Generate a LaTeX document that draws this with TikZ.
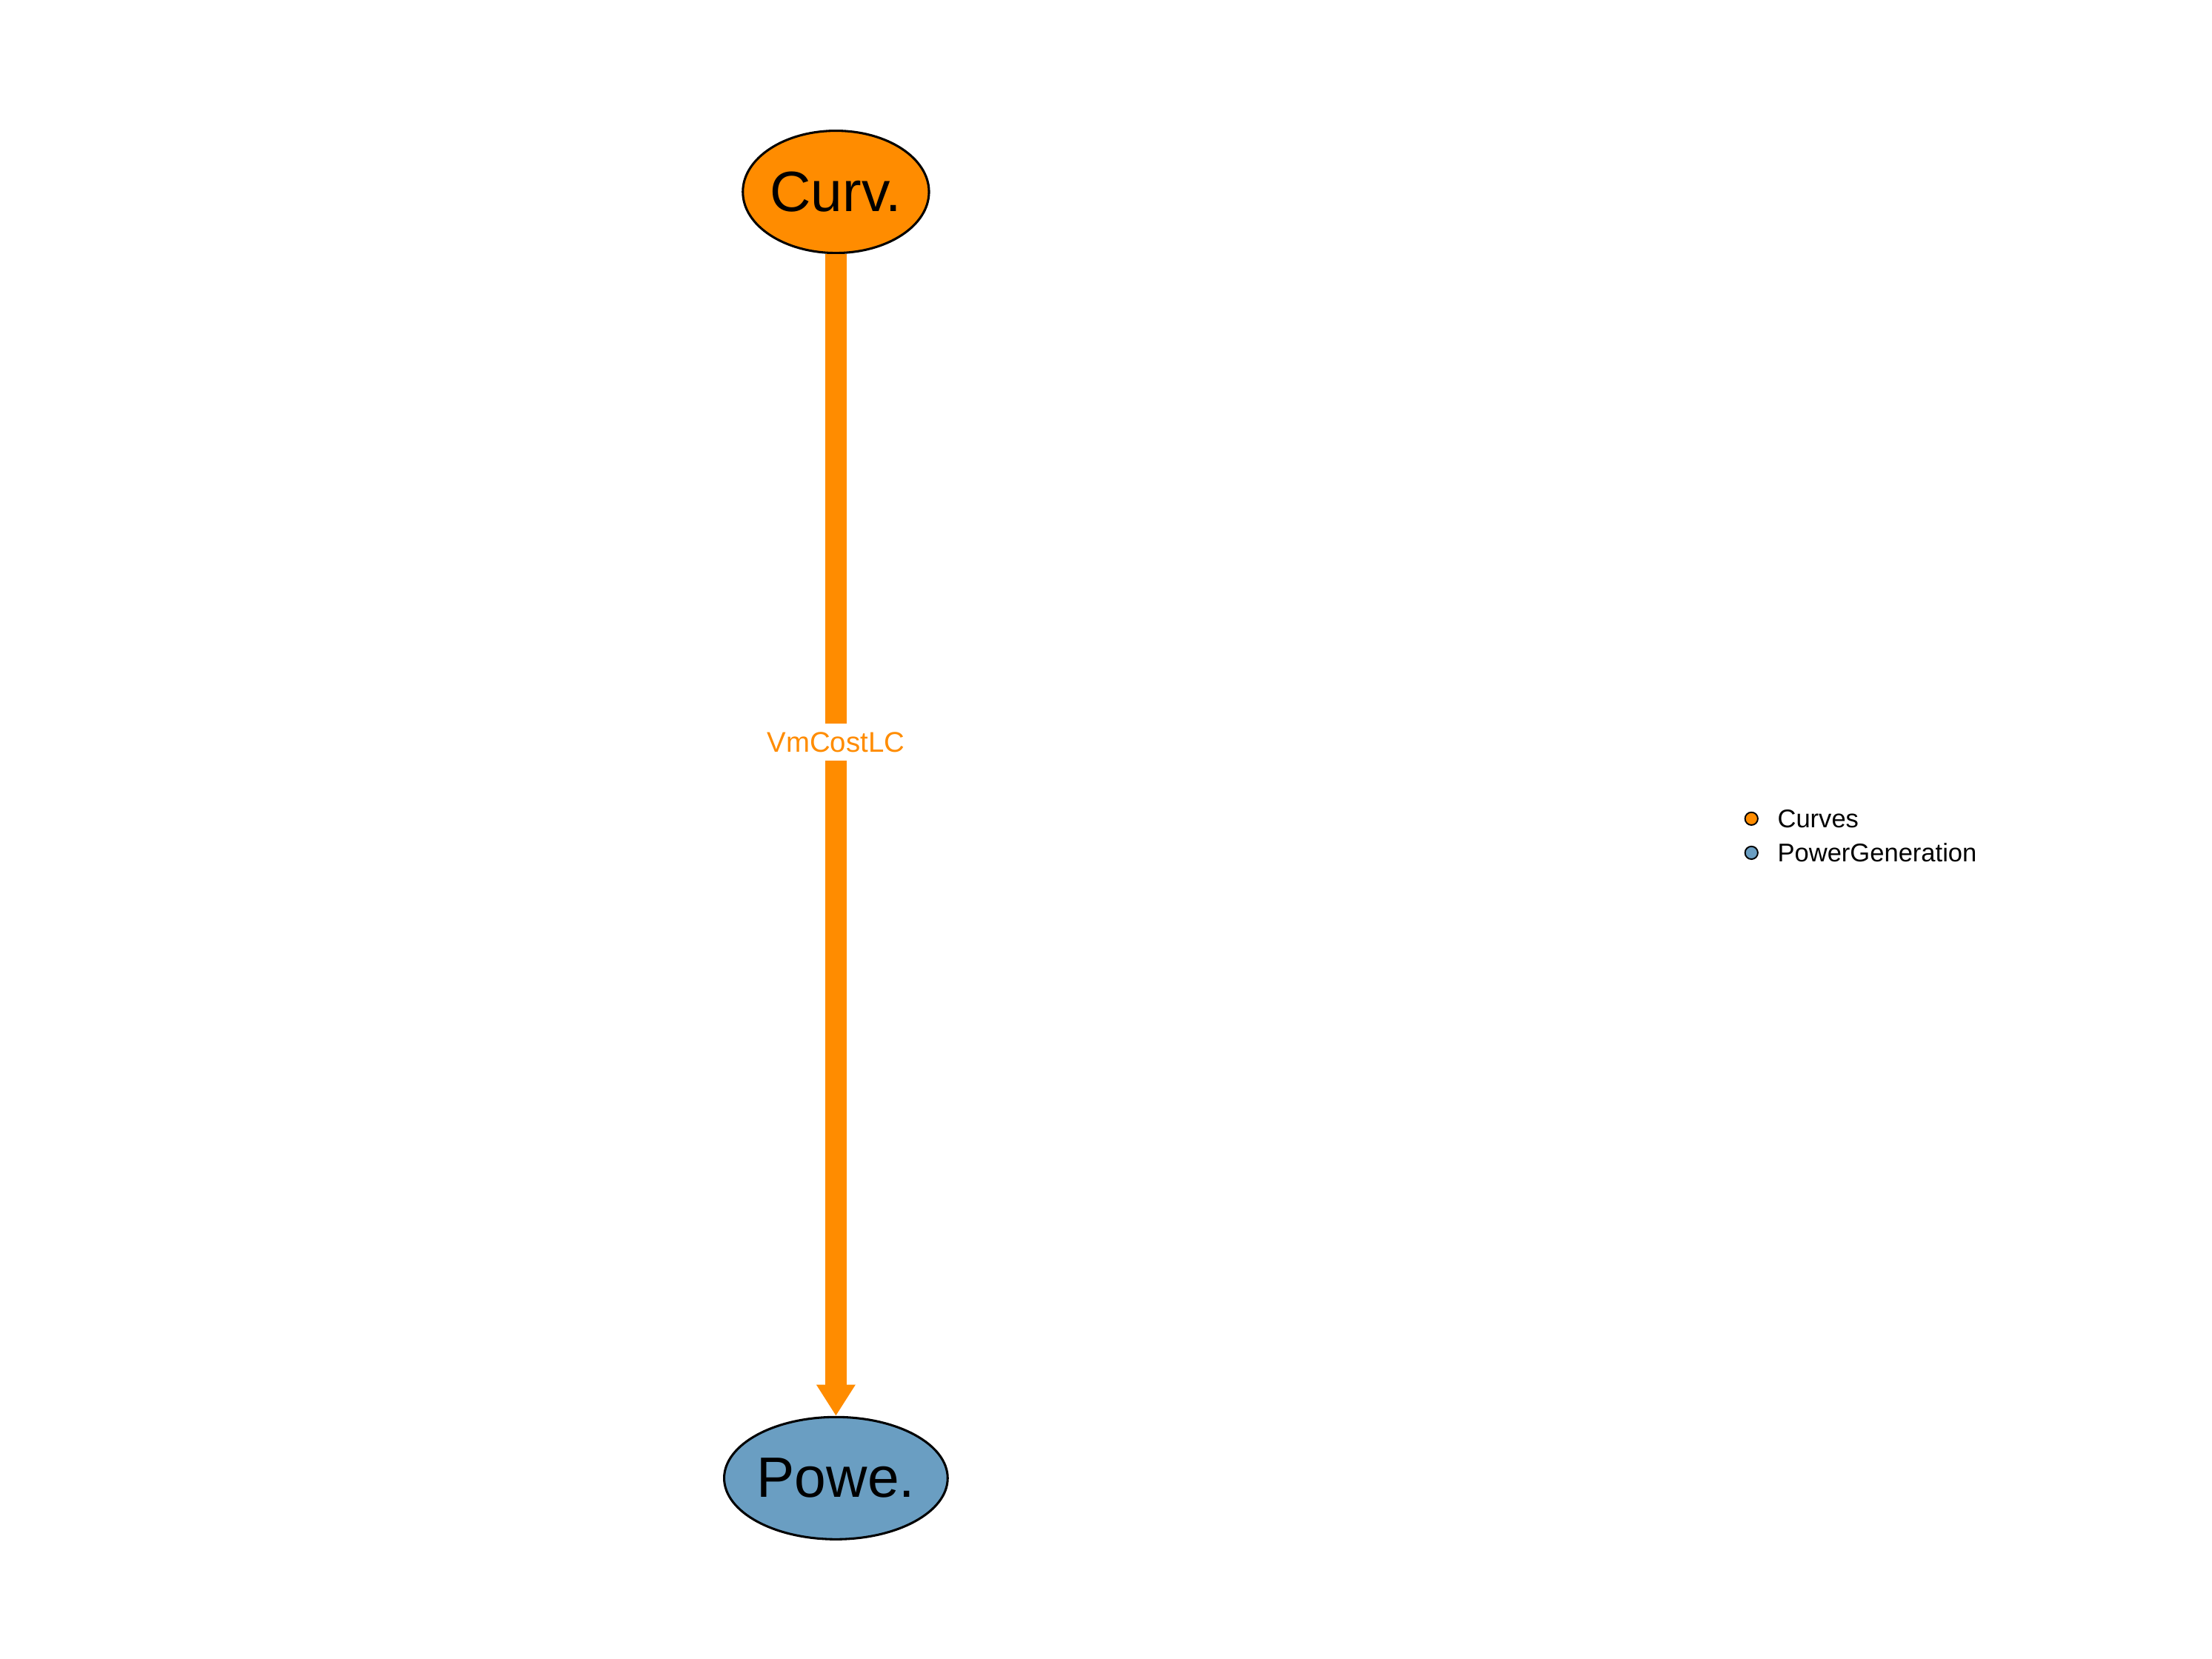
\documentclass[tikz,border=0pt]{standalone}
\usepackage{fontspec}
\setmainfont{Liberation Sans}
\usetikzlibrary{shapes.geometric,arrows.meta}
\definecolor{corange}{HTML}{FF8C00}
\definecolor{cblue}{HTML}{6A9EC2}
\tikzset{
  gnode/.style={ellipse,draw=black,line width=0.8pt,minimum width=65pt,minimum height=43pt,inner sep=0pt,font=\fontsize{20}{24}\selectfont},
  edgestyle/.style={draw=corange,line width=7.5pt,-{Triangle[length=11pt,width=13pt]}},
  legdot/.style={circle,draw=black,line width=0.5pt,minimum size=4.5pt,inner sep=0pt},
  legtext/.style={anchor=west,font=\fontsize{9}{11}\selectfont,inner sep=0pt}
}
\begin{document}
\begin{tikzpicture}[x=0.5pt,y=-0.5pt]
\useasboundingbox (0,0) rectangle (1556,1167);
\node[gnode,fill=corange] (curv) at (588,135) {Curv.};
\node[gnode,fill=cblue] (powe) at (588,1040) {Powe.};
\draw[edgestyle] (curv) -- (powe) node[pos=0.42,fill=white,text=corange,font=\fontsize{10}{12}\selectfont,inner sep=3pt] (lbl) {VmCostLC};
\node[legdot,fill=corange] (d1) at (1232,576) {};
\node[legdot,fill=cblue] (d2) at (1232,600) {};
\node[legtext] (t1) at (1250,576) {Curves};
\node[legtext] (t2) at (1250,600) {PowerGeneration};
\end{tikzpicture}
\end{document}
